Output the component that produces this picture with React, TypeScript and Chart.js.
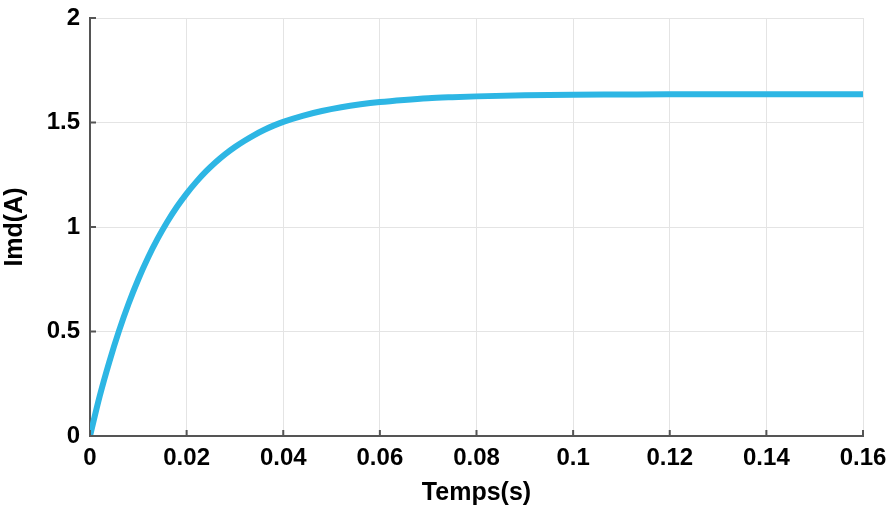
import React, { useEffect, useRef } from "react";
import { Chart, registerables } from "chart.js";

Chart.register(...registerables);

const timeValues: number[] = [0, 0.002, 0.004, 0.006, 0.008, 0.01, 0.012, 0.014, 0.016, 0.018, 0.02, 0.022, 0.024, 0.026, 0.028, 0.03, 0.032, 0.034, 0.036, 0.038, 0.04, 0.044, 0.048, 0.052, 0.056, 0.06, 0.065, 0.07, 0.075, 0.08, 0.09, 0.1, 0.11, 0.12, 0.14, 0.16];
const imdValues: number[] = [0, 0.19, 0.355, 0.503, 0.634, 0.75, 0.853, 0.944, 1.025, 1.097, 1.16, 1.216, 1.266, 1.31, 1.349, 1.383, 1.413, 1.44, 1.464, 1.485, 1.503, 1.532, 1.555, 1.573, 1.587, 1.598, 1.608, 1.616, 1.621, 1.625, 1.63, 1.633, 1.634, 1.635, 1.635, 1.635];
const xTicks: number[] = [0, 0.02, 0.04, 0.06, 0.08, 0.1, 0.12, 0.14, 0.16];
const yTicks: number[] = [0, 0.5, 1, 1.5, 2];
const xTitle = "Temps(s)";
const yTitle = "Imd(A)";

const FONT = "Arial, 'Liberation Sans', sans-serif";

const inwardTicks = {
  id: "inwardTicks",
  afterDraw(chart: any) {
    const { ctx, chartArea, scales } = chart;
    ctx.save();
    ctx.strokeStyle = "#555";
    ctx.lineWidth = 2;
    ctx.beginPath();
    for (const v of xTicks) {
      const px = scales.x.getPixelForValue(v);
      ctx.moveTo(px, chartArea.bottom);
      ctx.lineTo(px, chartArea.bottom - 6);
    }
    for (const v of yTicks) {
      const py = scales.y.getPixelForValue(v);
      ctx.moveTo(chartArea.left, py);
      ctx.lineTo(chartArea.left + 6, py);
    }
    ctx.stroke();
    ctx.restore();
  },
};

export default function App() {
  const ref = useRef<HTMLCanvasElement | null>(null);
  useEffect(() => {
    document.body.style.margin = "0";
    if (!ref.current) return;
    const chart = new Chart(ref.current, {
      type: "line",
      data: {
        datasets: [
          {
            data: timeValues.map((t, i) => ({ x: t, y: imdValues[i] })),
            borderColor: "#2db6e4",
            borderWidth: 6,
            pointRadius: 0,
            cubicInterpolationMode: "monotone",
            fill: false,
          },
        ],
      },
      options: {
        animation: false,
        responsive: false,
        maintainAspectRatio: false,
        layout: { padding: { left: 0, right: 27, top: 18, bottom: 0 } },
        plugins: { legend: { display: false }, tooltip: { enabled: false } },
        scales: {
          x: {
            type: "linear",
            min: 0,
            max: 0.16,
            afterBuildTicks: (s: any) => {
              s.ticks = xTicks.map((v) => ({ value: v }));
            },
            afterFit: (s: any) => {
              s.height = 72;
              s.paddingLeft = 0;
              s.paddingRight = 0;
            },
            ticks: {
              color: "#000",
              font: { family: FONT, size: 24, weight: "bold" },
              padding: 8,
              maxRotation: 0,
              callback: (v: any) => String(v),
            },
            grid: { color: "#e4e4e4", lineWidth: 1, tickLength: 0 },
            border: { color: "#555", width: 2 },
            title: {
              display: true,
              text: xTitle,
              color: "#000",
              font: { family: FONT, size: 25, weight: "bold" },
              padding: { top: 0, bottom: 0 },
            },
          },
          y: {
            type: "linear",
            min: 0,
            max: 2,
            afterBuildTicks: (s: any) => {
              s.ticks = yTicks.map((v) => ({ value: v }));
            },
            afterFit: (s: any) => {
              s.width = 90;
              s.paddingTop = 0;
              s.paddingBottom = 0;
            },
            ticks: {
              color: "#000",
              font: { family: FONT, size: 24, weight: "bold" },
              padding: 10,
              callback: (v: any) => String(v),
            },
            grid: { color: "#e4e4e4", lineWidth: 1, tickLength: 0 },
            border: { color: "#555", width: 2 },
            title: {
              display: true,
              text: yTitle,
              color: "#000",
              font: { family: FONT, size: 25, weight: "bold" },
              padding: { top: 0, bottom: 0 },
            },
          },
        },
      },
      plugins: [inwardTicks],
    } as any);
    return () => chart.destroy();
  }, []);
  return <canvas ref={ref} width={890} height={508} style={{ display: "block" }} />;
}
